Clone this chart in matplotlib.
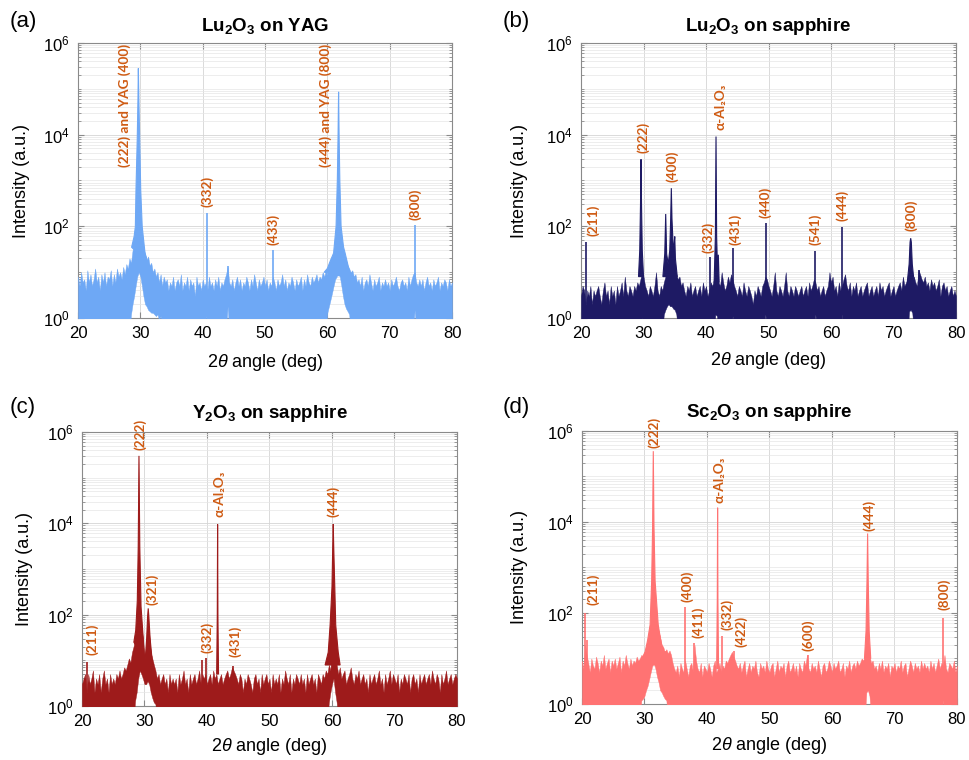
import numpy as np
import matplotlib.pyplot as plt
from matplotlib.ticker import FixedLocator, LogLocator, LogFormatterSciNotation, NullFormatter

plt.rcParams['font.family'] = ['Liberation Sans', 'DejaVu Sans']
plt.rcParams['mathtext.fontset'] = 'custom'
plt.rcParams['mathtext.rm'] = 'Liberation Sans'
plt.rcParams['mathtext.it'] = 'Liberation Sans:italic'
plt.rcParams['mathtext.bf'] = 'Liberation Sans:bold'
plt.rcParams['mathtext.default'] = 'regular'

# 2theta grid of the noise envelopes (0.25 deg steps, 20..80 -> 241 points)
two_theta = np.arange(20, 80.125, 0.25)

#------------------ (a) Lu2O3 on YAG ------------------
# upper edge of the noisy background, one row = 5 deg
a_hi = [8, 5, 10, 6, 7, 4, 11, 6, 9, 5, 7, 12, 6, 8, 4, 9, 6, 10, 5, 8,
        7, 11, 5, 9, 6, 12, 8, 10, 7, 13, 9, 15, 12, 20, 16, 30, 35, 60, 90, 300,
        200, 60, 35, 25, 18, 22, 14, 16, 10, 12, 8, 10, 6, 9, 5, 8, 6, 7, 4, 6,
        5, 8, 4, 6, 7, 5, 9, 4, 6, 5, 8, 4, 7, 5, 6, 3, 8, 5, 6, 4,
        7, 5, 6, 4, 8, 5, 6, 4, 7, 5, 8, 4, 6, 5, 7, 9, 13, 6, 5, 7,
        4, 6, 8, 5, 7, 4, 6, 5, 8, 6, 4, 7, 5, 9, 6, 4, 7, 5, 6, 8,
        5, 7, 4, 6, 5, 8, 6, 4, 7, 5, 6, 9, 5, 7, 4, 6, 5, 8, 6, 4,
        7, 5, 6, 8, 4, 7, 5, 9, 6, 5, 8, 6, 7, 9, 6, 8, 7, 10, 8, 11,
        9, 14, 12, 20, 18, 30, 40, 150, 100, 40, 30, 22, 18, 14, 12, 10, 11, 8, 9, 6,
        7, 5, 8, 4, 6, 7, 5, 9, 6, 4, 7, 5, 6, 8, 4, 6, 5, 7, 5, 6,
        4, 7, 5, 6, 8, 5, 4, 6, 7, 5, 6, 4, 8, 5, 7, 9, 10, 6, 5, 7,
        5, 7, 4, 6, 8, 5, 6, 4, 7, 5, 6, 8, 4, 6, 5, 7, 6, 4, 7, 5, 6]
# lower edge of the background (0.5 = below the axis)
a_lo = ([.5] * 34
        + [1.2, 2, 3, 5, 8, 10, 8, 5, 3, 2, 1.8, 1.5, 1.4, 1.3, 1.3, 1.2, 1.1, 1.2, .9, 1.1]
        + [.5] * 28 + [1.1] + [.5] * 13 + [1.8] + [.5] * 63
        + [1.3, 1.8, 2.5, 3.5, 5, 7, 8, 10, 8, 5, 3, 2, 1.6, 1.4, 1.2]
        + [.5] * 41 + [1.5] + [.5] * 24)
a_prof_x = [[28.6, 29.0, 29.2, 29.3, 29.5, 29.62, 29.68, 29.76, 29.9, 30.06, 30.3, 30.75, 31.3],
            [59.5, 60.0, 60.5, 61.0, 61.4, 61.6, 61.72, 61.8, 61.88, 62.0, 62.2, 62.6, 62.85, 63.6, 64.2]]
a_prof_y = [[35, 60, 98, 620, 7700, 60000, 2.8e5, 60000, 7700, 620, 98, 26, 15],
            [10, 12, 18, 26, 100, 1000, 10000, 8.6e4, 10000, 1000, 100, 35, 26, 9.6, 7]]
a_spk_x = [40.65, 44.0, 51.2, 74.0]
a_spk_y = [196, 13.5, 30, 107]
a_lab = ['(222) and YAG (400)', '(332)', '(433)', '(444) and YAG (800)', '(800)']
a_lab_x = [27.5, 40.75, 51.25, 59.65, 74.1]
a_lab_y = [2000, 270, 39, 2000, 138]

#------------------ (b) Lu2O3 on sapphire ------------------
b_hi = [3, 5, 4, 2, 4, 3, 5, 2, 4, 3, 4, 5, 3, 2, 4, 6, 3, 4, 2, 5,
        3, 4, 2, 5, 3, 4, 6, 3, 8, 4, 3, 5, 4, 3, 5, 4, 6, 5, 7, 10,
        8, 5, 4, 3, 5, 4, 3, 5, 10, 4, 3, 5, 4, 6, 8, 10, 12, 15, 18, 14,
        12, 9, 7, 8, 5, 6, 4, 3, 5, 4, 6, 3, 4, 5, 3, 4, 5, 3, 6, 4,
        5, 3, 4, 6, 5, 7, 8, 10, 6, 5, 10, 6, 4, 5, 8, 6, 9, 7, 5, 4,
        3, 5, 4, 3, 6, 4, 3, 5, 4, 3, 2, 4, 3, 5, 4, 3, 5, 6, 8, 7,
        5, 4, 3, 5, 10, 4, 3, 5, 4, 3, 5, 10, 4, 3, 5, 4, 3, 5, 4, 3,
        4, 5, 3, 4, 5, 3, 6, 4, 5, 7, 6, 4, 5, 3, 4, 5, 3, 4, 5, 10,
        6, 8, 4, 5, 3, 6, 4, 5, 7, 9, 5, 4, 6, 3, 5, 4, 6, 3, 4, 5,
        3, 4, 5, 6, 3, 4, 5, 3, 4, 5, 3, 6, 4, 5, 3, 4, 5, 6, 3, 4,
        5, 3, 4, 5, 6, 4, 8, 5, 6, 7, 8, 10, 6, 8, 6, 5, 11, 9, 7, 6,
        8, 5, 6, 4, 7, 5, 6, 4, 5, 7, 3, 5, 6, 4, 5, 3, 4, 5, 3, 4, 3]
b_lo = ([.5] * 38 + [.9, 1.0] + [.5] * 13
        + [1.2, 1.5, 1.8, 2, 1.8, 1.8, 1.6, 1.5, 1.2]
        + [.5] * 24 + [1.2, 1.1] + [.5] * 9 + [1.1] + [.5] * 20 + [1.2]
        + [.5] * 31 + [1.2] + [.5] * 16 + [1.2] + [.5] * 42
        + [1.4, 1.5, 1.3] + [.5] * 28)
b_prof_x = [[29.2, 29.4, 29.52, 29.6, 29.68, 29.8, 30.0],
            [33.1, 33.4, 33.55, 33.7, 33.95, 34.2, 34.35, 34.45, 34.55, 34.8, 34.95, 35.0, 35.1, 35.4],
            [41.3, 41.5, 41.6, 41.7, 41.85, 41.97, 42.1],
            [72.2, 72.5, 72.65, 72.75, 72.85, 73.0, 73.3]]
b_prof_y = [[8, 30, 300, 2900, 300, 30, 8],
            [8, 25, 186, 25, 15, 30, 150, 680, 150, 25, 50, 60, 20, 8],
            [6, 60, 9100, 60, 10, 24, 6],
            [6, 15, 45, 55, 45, 15, 6]]
b_spk_x = [20.8, 40.64, 44.3, 49.55, 57.4, 61.8, 74.0]
b_spk_y = [46, 21, 34, 120, 29, 95, 11]
b_lab = ['(211)', '(222)', '(400)', '(332)', 'α-Al₂O₃', '(431)', '(440)', '(541)', '(444)', '(800)']
b_lab_x = [21.97, 29.87, 34.6, 40.27, 42.24, 44.64, 49.44, 57.44, 61.8, 72.8]
b_lab_y = [62, 3900, 950, 26, 12700, 39, 150, 39, 131, 79]

#------------------ (c) Y2O3 on sapphire ------------------
c_hi = [3, 4, 5, 2, 5, 3, 4, 6, 2, 4, 3, 5, 2, 4, 6, 3, 4, 2, 5, 3,
        4, 3, 5, 4, 6, 4, 5, 7, 6, 8, 11, 9, 15, 20, 30, 45, 60, 100, 60, 30,
        10, 20, 60, 40, 15, 11, 8, 6, 4, 5, 3, 4, 5, 3, 4, 2, 5, 3, 4, 3,
        4, 2, 5, 3, 4, 6, 3, 4, 2, 5, 3, 4, 5, 3, 4, 6, 3, 5, 4, 5,
        3, 4, 5, 3, 6, 4, 5, 3, 4, 5, 3, 4, 5, 6, 4, 5, 7, 6, 5, 4,
        3, 5, 4, 2, 4, 3, 5, 4, 3, 2, 4, 5, 3, 4, 2, 5, 3, 4, 5, 3,
        4, 2, 5, 3, 4, 3, 5, 2, 4, 3, 6, 4, 3, 5, 2, 4, 3, 5, 4, 3,
        5, 3, 4, 2, 5, 3, 4, 5, 3, 4, 2, 5, 4, 3, 5, 4, 6, 5, 8, 6,
        30, 60, 15, 8, 5, 7, 4, 5, 6, 3, 4, 5, 7, 4, 3, 5, 4, 6, 3, 4,
        5, 3, 4, 2, 5, 3, 4, 5, 3, 4, 6, 3, 4, 2, 5, 3, 4, 6, 3, 5,
        4, 3, 5, 2, 4, 3, 5, 4, 3, 5, 2, 4, 5, 3, 4, 2, 5, 3, 4, 5,
        3, 4, 5, 3, 6, 4, 3, 5, 4, 2, 5, 3, 4, 6, 3, 4, 5, 3, 4, 5, 4]
c_lo = ([.5] * 34
        + [1.3, 2, 4, 6, 5, 4, 3, 3, 3.5, 3, 2, 1.5, 1.2, 1.1]
        + [.5] * 39 + [1.0] + [.5] * 70
        + [1.2, 2, 3, 4, 2, 1.2] + [.5] * 77)
c_prof_x = [[28.3, 28.6, 28.85, 29.0, 29.12, 29.25, 29.45, 29.8, 30.08, 30.35, 30.5, 30.6, 30.7, 30.9, 31.2, 31.6, 32.0],
            [41.55, 41.65, 41.7, 41.75, 41.85],
            [58.9, 59.4, 59.7, 60.0, 60.12, 60.2, 60.28, 60.45, 60.6, 61.0, 61.3]]
c_prof_y = [[25, 45, 200, 3000, 3e5, 3000, 150, 30, 8.6, 30, 90, 137, 90, 30, 11, 5, 3.4],
            [5, 100, 9500, 100, 5],
            [7.9, 15, 59, 400, 3000, 9600, 3000, 400, 59, 15, 7.9]]
c_spk_x = [20.75, 39.15, 39.84, 44.16]
c_spk_y = [9.3, 10.2, 11, 7.6]
c_lab = ['(211)', '(222)', '(321)', '(332)', 'α-Al₂O₃', '(431)', '(444)']
c_lab_x = [21.55, 29.28, 31.15, 39.95, 42.08, 44.48, 60.2]
c_lab_y = [13, 4e5, 162, 14.7, 1.4e4, 11.6, 1.35e4]

#------------------ (d) Sc2O3 on sapphire ------------------
d_hi = [9, 6, 20, 12, 8, 5, 10, 7, 6, 11, 8, 5, 9, 7, 12, 6, 8, 10, 5, 9,
        7, 10, 6, 8, 11, 5, 9, 7, 12, 8, 6, 10, 7, 9, 8, 11, 9, 10, 12, 11,
        14, 13, 18, 25, 30, 60, 80, 100, 60, 40, 30, 20, 18, 14, 16, 13, 15, 12, 8, 6,
        5, 7, 4, 8, 6, 5, 9, 6, 4, 7, 8, 5, 20, 9, 6, 5, 8, 4, 7, 6,
        5, 8, 6, 4, 7, 9, 5, 6, 8, 5, 7, 6, 9, 8, 10, 12, 14, 11, 9, 7,
        6, 8, 5, 7, 9, 4, 6, 8, 5, 7, 6, 9, 5, 4, 8, 6, 7, 5, 9, 6,
        5, 7, 8, 4, 6, 9, 5, 7, 6, 8, 4, 7, 9, 5, 6, 8, 5, 7, 4, 8,
        6, 5, 9, 7, 12, 6, 5, 8, 6, 7, 5, 9, 6, 4, 7, 8, 5, 6, 9, 7,
        5, 8, 6, 7, 9, 5, 6, 8, 4, 7, 6, 9, 5, 7, 8, 6, 9, 7, 8, 10,
        9, 12, 30, 20, 12, 8, 9, 6, 7, 5, 8, 6, 9, 5, 7, 6, 8, 4, 7, 6,
        8, 5, 7, 6, 9, 5, 7, 8, 4, 6, 9, 7, 5, 8, 6, 7, 5, 9, 6, 8,
        6, 7, 5, 9, 6, 8, 5, 7, 10, 6, 8, 7, 12, 6, 5, 8, 7, 6, 9, 5, 7]
d_lo = ([.5] * 38
        + [1.2, 1.3, 1.5, 2, 2.5, 3.5, 5, 7, 8, 6, 4, 3, 2, 1.8, 1.5, 1.3, 1.2]
        + [.5] * 127 + [1.8, 2, 1.5] + [.5] * 46 + [1.2] + [.5] * 9)
d_prof_x = [[29.0, 29.6, 30.1, 30.5, 30.9, 31.15, 31.3, 31.41, 31.52, 31.7, 32.2, 32.6, 33.0, 33.5, 34.1],
            [41.55, 41.65, 41.7, 41.75, 41.85],
            [65.2, 65.45, 65.6, 65.7, 65.8, 65.95, 66.2]]
d_prof_y = [[7.2, 10, 14, 25, 55, 500, 8000, 3.6e5, 8000, 500, 55, 25, 14, 14, 7.2],
            [6, 200, 2.06e4, 200, 6],
            [10, 40, 500, 5600, 500, 40, 10]]
d_spk_x = [20.48, 20.75, 36.53, 37.92, 42.4, 44.27, 56.2, 77.8]
d_spk_y = [101, 25, 137, 21.6, 31, 14.6, 12, 76]
d_lab = ['(211)', '(222)', '(400)', '(411)', 'α-Al₂O₃', '(332)', '(422)', '(600)', '(444)', '(800)']
d_lab_x = [21.8, 31.57, 36.75, 38.6, 42.08, 43.3, 45.5, 56.2, 65.9, 77.97]
d_lab_y = [150, 4.2e5, 178, 28, 2.6e4, 42, 18, 14.8, 6300, 117]

label_color = '#cf5b13'
frame_color = '#8a8a8a'


def draw_panel(ax, color, lo, hi, prof_x, prof_y, spk_x, spk_y, labs, lab_x, lab_y,
               title, tpad, ylab_x, xlab_y):
    ax.fill_between(two_theta, lo, hi, color=color, lw=0.3, zorder=3)
    for px, py in zip(prof_x, prof_y):
        ax.fill(px, py, color=color, lw=0.8, zorder=3)
    ax.vlines(spk_x, 2, spk_y, color=color, lw=1.2, zorder=3)
    for t, x, y in zip(labs, lab_x, lab_y):
        ax.text(x, y, t, rotation=90, ha='center', va='bottom', color=label_color,
                fontsize=9.8, fontweight='bold', family=['Lato', 'DejaVu Sans'], zorder=4)

    ax.set_yscale('log')
    ax.set_xlim(20, 80)
    ax.set_ylim(1, 1e6)
    ax.set_xticks([20, 30, 40, 50, 60, 70, 80])
    ax.yaxis.set_major_locator(FixedLocator([1, 1e2, 1e4, 1e6]))
    ax.yaxis.set_major_formatter(LogFormatterSciNotation())
    ax.yaxis.set_minor_locator(LogLocator(base=10, subs=np.arange(1, 10), numticks=30))
    ax.yaxis.set_minor_formatter(NullFormatter())
    ax.grid(True, which='major', color='#d4d4d4', lw=0.6)
    ax.grid(True, which='minor', axis='y', color='#e6e6e6', lw=0.5)
    ax.tick_params(which='both', direction='in', top=True, right=True, color=frame_color,
                   labelsize=12, pad=6)
    ax.tick_params(which='major', length=4)
    ax.tick_params(which='minor', length=2)
    for s in ax.spines.values():
        s.set_color(frame_color)
        s.set_linewidth(0.8)

    ax.set_title(title, fontsize=13.5, fontweight='bold', pad=tpad)
    ax.set_ylabel('Intensity (a.u.)', fontsize=13)
    ax.set_xlabel(r'2$\mathit{\theta}$ angle (deg)', fontsize=13)
    ax.yaxis.set_label_coords(ylab_x, 0.5)
    ax.xaxis.set_label_coords(0.5, xlab_y)


fig = plt.figure(figsize=(9.69, 7.6), dpi=100)
axA = fig.add_axes([0.0805, 0.5816, 0.386, 0.3618])
axB = fig.add_axes([0.5996, 0.5816, 0.387, 0.3618])
axC = fig.add_axes([0.0846, 0.0711, 0.387, 0.3605])
axD = fig.add_axes([0.6006, 0.0737, 0.387, 0.3592])

draw_panel(axA, '#6ea8f5', a_lo, a_hi, a_prof_x, a_prof_y, a_spk_x, a_spk_y,
           a_lab, a_lab_x, a_lab_y, r'Lu$_2$O$_3$ on YAG', 8.5, -0.128, -0.123)
draw_panel(axB, '#1e1a64', b_lo, b_hi, b_prof_x, b_prof_y, b_spk_x, b_spk_y,
           b_lab, b_lab_x, b_lab_y, r'Lu$_2$O$_3$ on sapphire', 8.5, -0.142, -0.116)
draw_panel(axC, '#9e1b1b', c_lo, c_hi, c_prof_x, c_prof_y, c_spk_x, c_spk_y,
           c_lab, c_lab_x, c_lab_y, r'Y$_2$O$_3$ on sapphire', 10.3, -0.13, -0.109)
draw_panel(axD, '#ff7373', d_lo, d_hi, d_prof_x, d_prof_y, d_spk_x, d_spk_y,
           d_lab, d_lab_x, d_lab_y, r'Sc$_2$O$_3$ on sapphire', 10.3, -0.145, -0.113)

fig.text(10 / 969, 1 - 22 / 760, '(a)', fontsize=16, va='center')
fig.text(503 / 969, 1 - 22 / 760, '(b)', fontsize=16, va='center')
fig.text(10 / 969, 1 - 408 / 760, '(c)', fontsize=16, va='center')
fig.text(503 / 969, 1 - 408 / 760, '(d)', fontsize=16, va='center')

fig.savefig('out.png', dpi=100)
